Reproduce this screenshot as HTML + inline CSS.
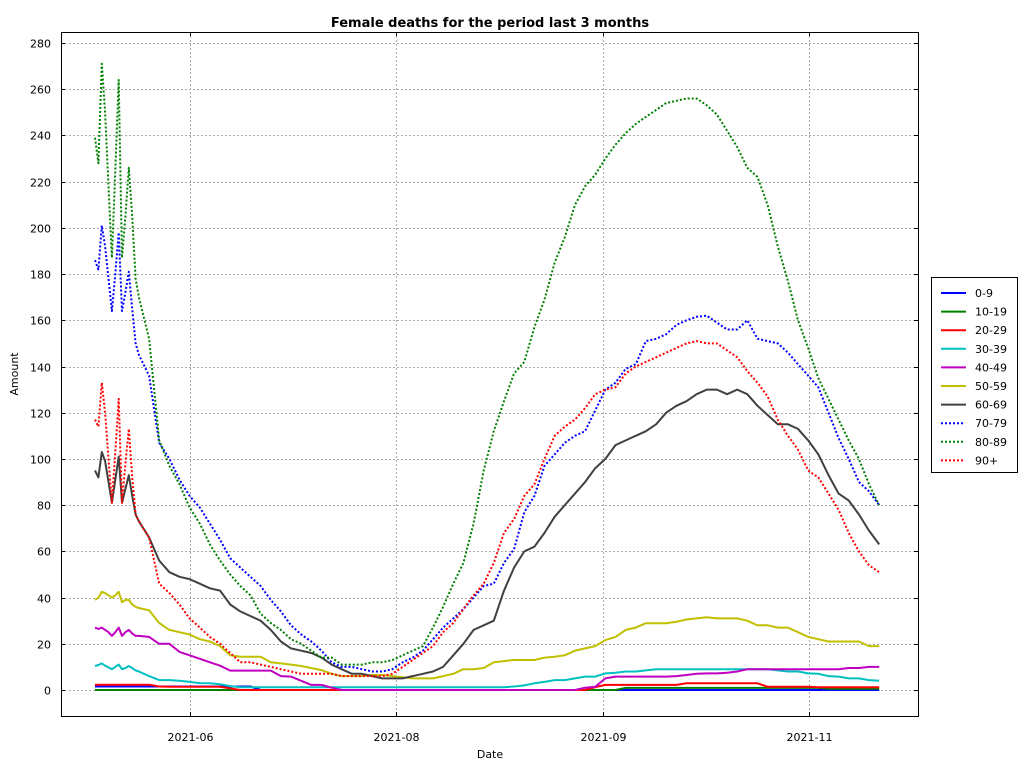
<!DOCTYPE html>
<html><head><meta charset="utf-8">
<style>
html,body{margin:0;padding:0;background:#fff;}
svg{display:block;font-family:"DejaVu Sans","Liberation Sans",sans-serif;}
</style></head>
<body>
<svg id="chart" width="1024" height="768" viewBox="0 0 1024 768">
<rect x="0" y="0" width="1024" height="768" fill="#fff"/>
<text x="490" y="27" text-anchor="middle" font-size="13" font-weight="bold">Female deaths for the period last 3 months</text>
<g id="grid"></g>
<g id="series"></g>
<rect x="61.5" y="32.5" width="857" height="684" fill="none" stroke="#000" stroke-width="1"/>
<g id="ticks"></g>
<text x="490" y="758" text-anchor="middle" font-size="11">Date</text>
<text x="18" y="374" text-anchor="middle" font-size="11" transform="rotate(-90 18 374)">Amount</text>
<rect x="931.5" y="277.5" width="86" height="195" fill="#fff" stroke="#000"/>
<g id="legend"></g>
</svg>
<script>
const days = [0,1,2,3,4,5,6,7,8,9,10,11,12,13,16,19,22,25,28,31,34,37,40,43,46,49,52,55,58,61,64,67,70,73,76,79,82,85,88,91,94,97,100,103,106,109,112,115,118,121,124,127,130,133,136,139,142,145,148,151,154,157,160,163,166,169,172,175,178,181,184,187,190,193,196,199,202,205,208,211,214,217,220,223,226,229,232];
const seriesNames = ["0-9","10-19","20-29","30-39","40-49","50-59","60-69","70-79","80-89","90+"];
const xTickDays = [28.1, 89, 150.3, 211.2];
const xTickLabels = ["2021-06","2021-08","2021-09","2021-11"];
const yTicks = [0,20,40,60,80,100,120,140,160,180,200,220,240,260,280];

const v0_9 = [1.5,1.5,1.5,1.5,1.5,1.5,1.5,1.5,1.5,1.5,1.5,1.5,1.5,1.5,1.5,1.5,1.5,1.5,1.5,1.5,1.5,1.5,1.5,1.5,1.5,0,0,0,0,0,0,0,0,0,0,0,0,0,0,0,0,0,0,0,0,0,0,0,0,0,0,0,0,0,0,0,0,0,0,0,0,0,0,0,0,0,0,0,0,0,0,0,0,0,0,0,0,0,0,0,0,0,0,0,0,0,0];
const v10_19 = [0,0,0,0,0,0,0,0,0,0,0,0,0,0,0,0,0,0,0,0,0,0,0,0,0,0,0,0,0,0,0,0,0,0,0,0,0,0,0,0,0,0,0,0,0,0,0,0,0,0,0,0,0,0,0,0,0,0,0,0,0,0.9,0.9,0.9,0.9,0.9,0.9,0.9,0.9,0.9,0.9,0.9,0.9,0.9,0.9,0.9,0.9,0.9,0.9,0.9,0.9,0.5,0.5,0.5,0.5,0.5,0.5];
const v20_29 = [2.3,2.3,2.3,2.3,2.3,2.3,2.3,2.3,2.3,2.3,2.3,2.3,2.3,2.3,2.3,1.5,1.4,1.4,1.4,1.4,1.4,1.4,0.7,0,0,0,0,0,0,0,0,0,0,0,0,0,0,0,0,0,0,0,0,0,0,0,0,0,0,0,0,0,0,0,0,0,0,0,1.2,2.2,2.2,2.2,2.2,2.2,2.2,2.2,2.2,2.9,2.9,2.9,2.9,2.9,2.9,2.9,2.9,1.4,1.4,1.4,1.4,1.4,1.2,1.2,1.2,1.2,1.2,1.2,1.2];
const v30_39 = [10.4,10.8,11.5,10.5,9.8,9,10,11,9,9.5,10.4,9.5,8.5,8,6,4.3,4.3,4,3.5,3,2.9,2.5,1.7,1.2,1.2,1.2,1.2,1.2,1.2,1.2,1.2,1.2,1.2,1.2,1.2,1.2,1.2,1.2,1.2,1.2,1.2,1.2,1.2,1.2,1.2,1.2,1.2,1.2,1.2,1.2,1.5,2,2.9,3.5,4.3,4.3,5,5.8,5.8,7.2,7.5,8,8,8.5,9,9,9,9,9,9,9,9,9,9,9,9,8.5,8,8,7.2,7,6,5.8,5,5,4.3,4];
const v40_49 = [27,26.4,27,26,25,23.4,25,27,23.4,25,26,24.5,23.4,23.4,23,20,20,16.5,15,13.5,12,10.5,8.4,8.4,8.4,8.4,8.4,6,5.8,4,2.2,2.2,1,0,0,0,0,0,0,0,0,0,0,0,0,0,0,0,0,0,0,0,0,0,0,0,0,1,1.4,5,5.8,5.8,5.8,5.8,5.8,5.8,6,6.5,7,7.2,7.2,7.5,8,9,9,9,9,9,9,9,9,9,9,9.5,9.5,10,10];
const v50_59 = [39,40,42.5,42,41,40,41,42.5,38,39,39,37,36,35.5,34.5,29,26,25,24,22,21,19,15,14.4,14.4,14.4,12,11.5,11,10.4,9.5,8.6,7,6,6,6,6.5,6.5,6,5.5,5,5,5,6,7,9,9,9.5,12,12.5,13,13,13,14,14.4,15,17,18,19,21.6,23,26,27,28.9,28.9,28.9,29.5,30.5,31,31.5,31,31,31,30,28,28,27,27,25,23,22,21,21,21,21,19,19];
const v60_69 = [95,92,103,99,90,81,91,101,81,87,93,84,76,73,66,56,51,49,48,46,44,43,37,34,32,30,26,21,18,17,16,14,11,9,7,7,6,5,5,5,6,7,8,10,15,20,26,28,30,43,53,60,62,68,75,80,85,90,96,100,106,108,110,112,115,120,123,125,128,130,130,128,130,128,123,119,115,115,113,108,102,93,85,82,76,69,63];
const v70_79 = [186,182,201,192,178,164,180,198,164,172,181,165,150,145,136,107,100,91,84,79,72,65,57,53,49,45,39,34,28,24,21,17,12,10,10,9,8,8,9,12,14,17,22,27,31,35,40,45,46,55,61,77,84,97,102,107,110,112,121,130,133,139,141,151,152,154,158,160,161.5,162,159,156,156,160,152,151,150,146,141,136,131,120,109,100,90,86,80];
const v80_89 = [239,228,271,250,218,187,225,264,187,205,226,205,178,170,152,108,97,89,79,72,63,56,50,45,41,33,29,26,22,20,17,14,14,11,11,11,12,12,13,15,17,19,27,36,46,55,72,95,112,125,137,142,157,169,185,196,210,218,223,230,236,241,245,248,251,254,255,256,256,253,249,242,235,226,222,210,192,177,160,148,135,126,117,108,100,89,80];
const v90p = [117,114,133,120,100,81,103,126,81,98,113,92,76,73,66,46,42,37,31,27,23,20,16,12,12,11,10,9,8,7,7,7,7,6,6,6,6,6,7,10,13,16,19,25,29,35,41,46,55,68,74,84,89,100,110,114,117,122,128,130,131,137,140,142,144,146,148,150,151,150,150,147,144,138,133,127,117,110,104,95,92,85,78,68,60,54,51];

const seriesValues = [v0_9,v10_19,v20_29,v30_39,v40_49,v50_59,v60_69,v70_79,v80_89,v90p];
const colors = ["#0000ff","#008000","#ff0000","#00c0c0","#c000c0","#c0c000","#404040","#0000ff","#008000","#ff0000"];
const dotted = [false,false,false,false,false,false,false,true,true,true];

const NS = "http://www.w3.org/2000/svg";
const X0 = 61, X1 = 918, Y0 = 716, Y1 = 32;
function xs(d){ return 95 + d * 3.38; }
function ys(v){ return 690 - v * (647 / 280); }

const grid = document.getElementById('grid');
const ticks = document.getElementById('ticks');
yTicks.forEach(t => {
  const y = Math.round(ys(t)) + 0.5;
  const g = document.createElementNS(NS, 'line');
  
  
  g.setAttribute('x1', X0); g.setAttribute('x2', X1); g.setAttribute('y1', y); g.setAttribute('y2', y);
  g.setAttribute('stroke', '#aaa'); g.setAttribute('stroke-dasharray', '2,2');
  grid.appendChild(g);
  [[X0, X0 + 4], [X1 - 4, X1]].forEach(p => {
    const tk = document.createElementNS(NS, 'line');
    
    
    tk.setAttribute('x1', p[0]); tk.setAttribute('x2', p[1]); tk.setAttribute('y1', y); tk.setAttribute('y2', y);
    tk.setAttribute('stroke', '#000');
    ticks.appendChild(tk);
  });
  const tx = document.createElementNS(NS, 'text');
  
  
  tx.setAttribute('x', 51); tx.setAttribute('y', y + 4);
  tx.setAttribute('text-anchor', 'end'); tx.setAttribute('font-size', '11');
  tx.textContent = t;
  ticks.appendChild(tx);
});
xTickDays.forEach((d, i) => {
  const x = Math.round(xs(d)) + 0.5;
  const g = document.createElementNS(NS, 'line');
  
  
  g.setAttribute('x1', x); g.setAttribute('x2', x); g.setAttribute('y1', Y1); g.setAttribute('y2', Y0);
  g.setAttribute('stroke', '#aaa'); g.setAttribute('stroke-dasharray', '2,2');
  grid.appendChild(g);
  [[Y0 - 4, Y0], [Y1, Y1 + 4]].forEach(p => {
    const tk = document.createElementNS(NS, 'line');
    
    
    tk.setAttribute('x1', x); tk.setAttribute('x2', x); tk.setAttribute('y1', p[0]); tk.setAttribute('y2', p[1]);
    tk.setAttribute('stroke', '#000');
    ticks.appendChild(tk);
  });
  const tx = document.createElementNS(NS, 'text');
  
  
  tx.setAttribute('x', x); tx.setAttribute('y', 741);
  tx.setAttribute('text-anchor', 'middle'); tx.setAttribute('font-size', '11');
  tx.textContent = xTickLabels[i];
  ticks.appendChild(tx);
});

const sg = document.getElementById('series');
seriesValues.forEach((vals, i) => {
  const pts = vals.map((v, j) => xs(days[j]).toFixed(1) + ',' + ys(v).toFixed(1)).join(' ');
  const pl = document.createElementNS(NS, 'polyline');
  
  
  pl.setAttribute('points', pts);
  pl.setAttribute('fill', 'none');
  pl.setAttribute('stroke', colors[i]);
  pl.setAttribute('stroke-width', '2');
  pl.setAttribute('stroke-linejoin', 'round');
  if (dotted[i]) pl.setAttribute('stroke-dasharray', '2,2');
  sg.appendChild(pl);
});

const lg = document.getElementById('legend');
seriesNames.forEach((n, i) => {
  const y = 293 + i * 18.6;
  const l = document.createElementNS(NS, 'line');
  
  
  l.setAttribute('x1', 941); l.setAttribute('x2', dotted[i] ? 963 : 966);
  l.setAttribute('y1', y); l.setAttribute('y2', y);
  l.setAttribute('stroke', colors[i]); l.setAttribute('stroke-width', '2');
  if (dotted[i]) l.setAttribute('stroke-dasharray', '2,2');
  lg.appendChild(l);
  const t = document.createElementNS(NS, 'text');
  
  
  t.setAttribute('x', 975); t.setAttribute('y', y + 4);
  t.setAttribute('font-size', '11');
  t.textContent = n;
  lg.appendChild(t);
});
</script>
</body></html>
